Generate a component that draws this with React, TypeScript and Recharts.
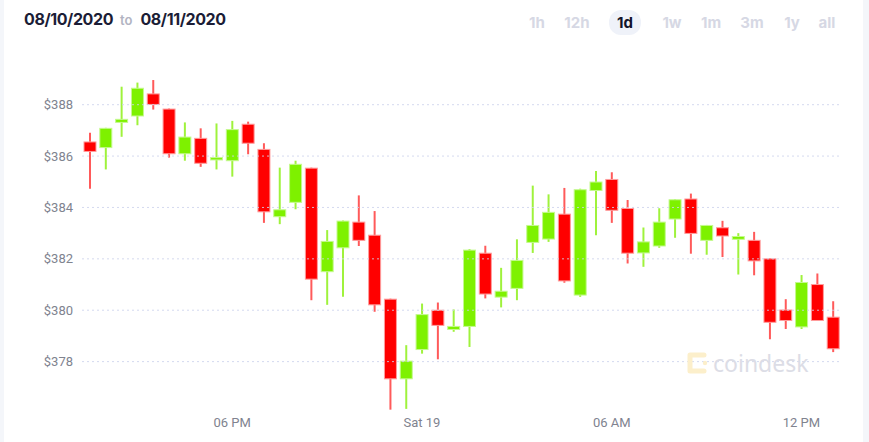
import React from 'react';
import { ComposedChart, Bar, XAxis, YAxis, ReferenceLine } from 'recharts';

// 30 minute candles, Fri 13:30 -> Sat 13:00
const times = [
  'Fri 13:30', 'Fri 14:00', 'Fri 14:30', 'Fri 15:00', 'Fri 15:30', 'Fri 16:00', 'Fri 16:30', 'Fri 17:00',
  'Fri 17:30', 'Fri 18:00', 'Fri 18:30', 'Fri 19:00', 'Fri 19:30', 'Fri 20:00', 'Fri 20:30', 'Fri 21:00',
  'Fri 21:30', 'Fri 22:00', 'Fri 22:30', 'Fri 23:00', 'Fri 23:30', 'Sat 00:00', 'Sat 00:30', 'Sat 01:00',
  'Sat 01:30', 'Sat 02:00', 'Sat 02:30', 'Sat 03:00', 'Sat 03:30', 'Sat 04:00', 'Sat 04:30', 'Sat 05:00',
  'Sat 05:30', 'Sat 06:00', 'Sat 06:30', 'Sat 07:00', 'Sat 07:30', 'Sat 08:00', 'Sat 08:30', 'Sat 09:00',
  'Sat 09:30', 'Sat 10:00', 'Sat 10:30', 'Sat 11:00', 'Sat 11:30', 'Sat 12:00', 'Sat 12:30', 'Sat 13:00',
];

const opens = [
  386.55, 386.33, 387.31, 387.56, 388.42, 387.83, 386.09, 386.69, 385.85, 385.82, 387.24, 386.26,
  383.64, 384.2, 385.53, 381.5, 382.43, 383.43, 382.92, 380.43, 377.33, 378.47, 380.0, 379.25,
  379.37, 382.22, 380.51, 380.85, 382.64, 382.77, 383.74, 380.59, 384.66, 385.09, 383.96, 382.23,
  382.5, 383.55, 384.33, 382.72, 383.21, 382.76, 382.72, 382.0, 380.01, 379.35, 381.0, 379.73,
];
const closes = [
  386.18, 387.08, 387.43, 388.64, 388.01, 386.09, 386.74, 385.72, 385.94, 387.03, 386.5, 383.83,
  383.91, 385.68, 381.21, 382.68, 383.47, 382.72, 380.21, 377.33, 378.02, 379.83, 379.41, 379.37,
  382.34, 380.63, 380.74, 381.94, 383.3, 383.81, 381.14, 384.69, 384.99, 383.89, 382.22, 382.66,
  383.43, 384.3, 382.99, 383.3, 382.89, 382.87, 381.92, 379.53, 379.6, 381.08, 379.6, 378.5,
];
const highs = [
  386.91, 387.1, 388.7, 388.86, 388.96, 387.85, 387.31, 387.08, 387.27, 387.37, 387.34, 386.5,
  385.55, 385.82, 385.55, 383.12, 383.49, 384.47, 383.86, 380.45, 378.64, 380.26, 380.3, 380.03,
  382.38, 382.51, 381.65, 382.76, 384.85, 384.51, 384.76, 384.73, 385.42, 385.37, 384.29, 383.22,
  383.97, 384.32, 384.54, 383.32, 383.48, 383.0, 383.05, 382.02, 380.43, 381.37, 381.43, 380.35,
];
const lows = [
  384.73, 385.48, 386.75, 387.2, 387.81, 385.94, 385.82, 385.58, 385.48, 385.2, 386.07, 383.4,
  383.35, 383.93, 380.39, 380.21, 380.52, 382.5, 379.94, 376.13, 376.16, 378.31, 378.09, 379.16,
  378.57, 380.46, 380.11, 380.39, 382.23, 382.66, 381.07, 380.52, 382.92, 383.4, 381.82, 381.69,
  382.43, 382.82, 382.2, 382.16, 382.07, 381.39, 381.36, 378.87, 379.27, 379.27, 379.58, 378.37,
];

const priceTicks = [378, 380, 382, 384, 386, 388];
const timeTickLabels: Record<string, string> = {
  'Fri 18:00': '06 PM',
  'Sat 00:00': 'Sat 19',
  'Sat 06:00': '06 AM',
  'Sat 12:00': '12 PM',
};
const periods = ['1h', '12h', '1d', '1w', '1m', '3m', '1y', 'all'];
const periodX = [537, 577, 625, 672, 711, 752, 792, 827];

const data = times.map((t, i) => ({
  time: t,
  open: opens[i],
  close: closes[i],
  high: highs[i],
  low: lows[i],
}));

const UP = '#7ef100';
const DOWN = '#ff0000';

const Candle = (props: any) => {
  let { x, y, width, height } = props;
  const { open, close, high, low } = props.payload;
  if (height < 0) {
    y += height;
    height = -height;
  }
  const up = close >= open;
  const ratio = height / (high - low);
  const yOf = (v: number) => y + (high - v) * ratio;
  const top = yOf(Math.max(open, close));
  const bodyH = Math.max(yOf(Math.min(open, close)) - top, 2);
  const cx = x + width / 2;
  return (
    <g>
      <line x1={cx} x2={cx} y1={y} y2={y + height} stroke={up ? '#9ff23c' : '#ff5a5a'} strokeWidth={2} />
      <rect
        x={x}
        y={top}
        width={width}
        height={bodyH}
        fill={up ? UP : DOWN}
        stroke={up ? '#c4f98e' : '#ff9c9c'}
        strokeWidth={1}
      />
    </g>
  );
};

export default function App() {
  return (
    <div
      style={{
        position: 'absolute',
        left: 0,
        top: 0,
        width: 869,
        height: 442,
        background: '#f4f6fa',
        fontFamily: 'Inter, sans-serif',
        overflow: 'hidden',
      }}
    >
      <div style={{ position: 'absolute', left: 4, top: 0, width: 859, height: 442, background: '#fff' }} />

      <div
        style={{
          position: 'absolute',
          left: 24,
          top: 9,
          fontSize: 16,
          fontWeight: 700,
          letterSpacing: -0.4,
          color: '#1b1d36',
          whiteSpace: 'nowrap',
        }}
      >
        08/10/2020
        <span style={{ fontSize: 13, fontWeight: 600, letterSpacing: 0, color: '#b2b4c2', margin: '0 8px 0 7px' }}>to</span>
        08/11/2020
      </div>

      <div style={{ position: 'absolute', left: 609, top: 10, width: 32, height: 25, borderRadius: 12, background: '#eff2f9' }} />
      {periods.map((p, i) => (
        <div
          key={p}
          style={{
            position: 'absolute',
            left: periodX[i] - 20,
            width: 40,
            top: 13,
            textAlign: 'center',
            fontSize: 15,
            fontWeight: 700,
            color: p === '1d' ? '#12142b' : '#d6d8e4',
          }}
        >
          {p}
        </div>
      ))}

      <div style={{ position: 'absolute', left: 0, top: 0 }}>
        <ComposedChart width={869} height={442} data={data} margin={{ top: 79, right: 28, bottom: 0, left: 22 }}>
          <XAxis
            dataKey="time"
            ticks={Object.keys(timeTickLabels)}
            tickFormatter={(v: string) => timeTickLabels[v] || ''}
            axisLine={false}
            tickLine={false}
            tickSize={0}
            tickMargin={5}
            height={29}
            tick={{ fill: '#80838f', fontSize: 13, fontFamily: 'Roboto' }}
          />
          <YAxis
            domain={[376, 389]}
            ticks={priceTicks}
            tickFormatter={(v: number) => `$${v}`}
            axisLine={false}
            tickLine={false}
            tickSize={0}
            tickMargin={9}
            width={60}
            allowDataOverflow
            tick={{ fill: '#80838f', fontSize: 13, fontFamily: 'Roboto' }}
          />
          <Bar
            dataKey={(d: any) => [d.low, d.high]}
            barSize={12}
            shape={<Candle />}
            isAnimationActive={false}
          />
          {priceTicks.map((v) => (
            <ReferenceLine
              key={v}
              y={v}
              stroke="#cdd2ec"
              strokeDasharray="2 3"
              strokeOpacity={0.85}
              zIndex={1000}
            />
          ))}
        </ComposedChart>
      </div>

      <div style={{ position: 'absolute', left: 684, top: 350, width: 130, height: 28, pointerEvents: 'none' }}>
        <svg width={26} height={28} style={{ position: 'absolute', left: 0, top: 0 }}>
          <path d="M20 5 H6 V21 H20" fill="none" stroke="#fcefcb" strokeWidth={5} strokeLinecap="round" strokeLinejoin="round" />
          <circle cx={21} cy={13} r={2.2} fill="#fcefcb" />
        </svg>
        <div style={{ position: 'absolute', left: 29, top: -3, fontSize: 23, color: '#dcdde6', fontFamily: '"Noto Sans", sans-serif' }}>
          coindesk
        </div>
      </div>
    </div>
  );
}
